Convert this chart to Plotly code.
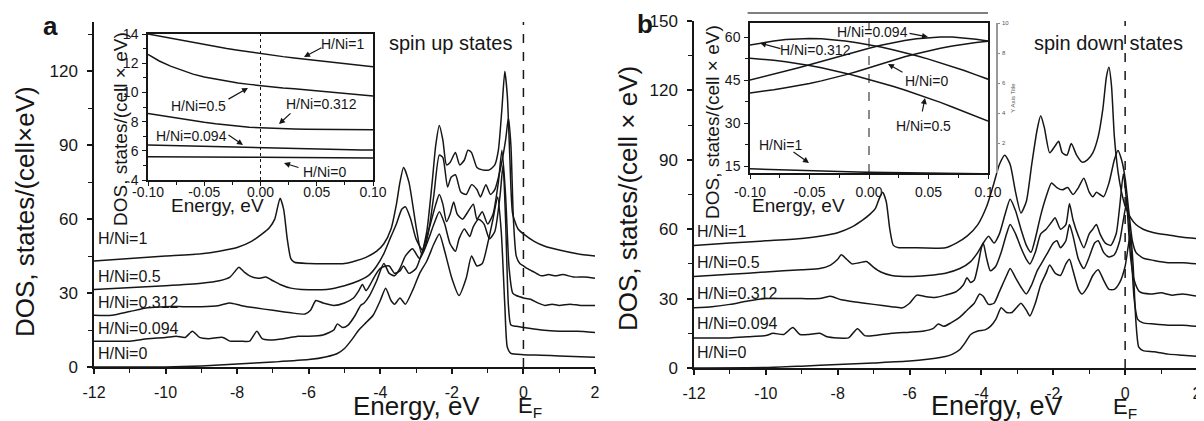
import plotly.graph_objects as go

# page body has an 8px default margin: figure is 8px smaller, positions shifted by 8px
OFF = 8
W, H = 1204 - OFF, 421 - OFF
def PX(x): return (x - OFF) / W
def PY(y): return 1 - (y - OFF) / H

FONT = "Arial, Liberation Sans, sans-serif"
INK = "#161616"

# ---------------- Panel a : spin up ----------------
a_x_0 = [-12, -10, -9, -8, -7, -6, -5.5, -5.2, -5.0, -4.8, -4.6, -4.4, -4.2, -4.0, -3.85, -3.7, -3.6, -3.45, -3.3, -3.1, -2.9, -2.7, -2.5, -2.35, -2.2, -2.0, -1.8, -1.6, -1.45, -1.3, -1.15, -1.0, -0.85, -0.72, -0.62, -0.52, -0.45, -0.35, 0, 0.5, 1, 2]
a_y_0 = [0, 0, 0.4, 1.2, 2, 3, 4.2, 5.5, 7.5, 11, 15, 18, 21, 27, 32, 27, 25.5, 28, 25.5, 31, 38, 43, 50, 54, 47, 36, 29, 36, 45, 41, 42, 50, 60, 69, 55, 25, 8, 5.5, 5, 4.8, 4.5, 4]

a_x_0094 = [-12, -11, -10.5, -10, -9.7, -9.45, -9.25, -9.05, -8.8, -8.4, -8.2, -7.9, -7.65, -7.45, -7.3, -7.1, -6.7, -6.3, -6, -5.6, -5.3, -5.2, -5.05, -4.9, -4.7, -4.55, -4.45, -4.3, -4.1, -3.9, -3.75, -3.6, -3.45, -3.3, -3.1, -2.9, -2.7, -2.5, -2.35, -2.2, -2.05, -1.9, -1.8, -1.65, -1.5, -1.4, -1.25, -1.1, -0.95, -0.8, -0.65, -0.57, -0.5, -0.42, -0.35, -0.2, 0, 0.5, 1.0, 1.5, 2.0]
a_y_0094 = [10.5, 10.5, 11.5, 12, 12.5, 12, 14.5, 12, 11.5, 12, 10.5, 10.5, 10.5, 14.5, 11.5, 11, 11.5, 12.5, 12.5, 13, 15, 17.5, 16, 17, 21, 25, 26, 29, 35, 42, 38, 37, 40, 45, 48, 44, 50, 58, 63, 58, 50, 47, 52, 56, 53, 57, 60, 58, 52, 55, 70, 82, 60, 25, 17, 16.5, 16, 15, 14.5, 14.5, 14]

a_x_0312 = [-12, -11.5, -11, -10.5, -10, -9.5, -9, -8.5, -8.2, -7.9, -7.5, -7, -6.5, -6.1, -5.95, -5.8, -5.6, -5.3, -5.0, -4.75, -4.6, -4.5, -4.4, -4.3, -4.15, -4.0, -3.85, -3.75, -3.6, -3.45, -3.35, -3.2, -3.0, -2.8, -2.6, -2.45, -2.35, -2.25, -2.15, -2.05, -1.95, -1.85, -1.7, -1.55, -1.4, -1.3, -1.15, -1.0, -0.85, -0.7, -0.6, -0.5, -0.4, -0.3, -0.2, -0.1, 0, 0.2, 0.4, 0.6, 0.8, 1.0, 1.3, 1.6, 2.0]
a_y_0312 = [21, 21, 22.5, 24, 24.5, 24.5, 24.5, 25, 26, 25, 24, 23, 22, 21.5, 23, 27, 26, 25, 26, 28, 31, 33.5, 31, 33, 37, 40, 41, 41, 38, 39, 41, 38, 40, 48, 58, 66, 70, 66, 59, 62, 67, 62, 60, 63, 66, 60, 63, 58, 62, 75, 88, 70, 40, 30, 29, 28.5, 28, 27.5, 26, 25, 25.5, 25, 25.5, 25, 25]

a_x_05 = [-12, -10, -9, -8.5, -8.2, -8.05, -7.95, -7.8, -7.65, -7.4, -7.2, -7.0, -6.8, -6.5, -6.2, -5.5, -5.0, -4.6, -4.3, -4.1, -3.9, -3.7, -3.55, -3.4, -3.3, -3.15, -3.0, -2.8, -2.65, -2.5, -2.35, -2.25, -2.12, -2.02, -1.9, -1.75, -1.6, -1.45, -1.3, -1.2, -1.05, -0.92, -0.8, -0.65, -0.5, -0.42, -0.35, -0.28, -0.2, -0.1, 0, 0.1, 0.3, 0.5, 0.7, 0.9, 1.1, 1.4, 1.7, 2.0]
a_y_05 = [31.5, 33, 34, 35, 36.5, 39, 40.5, 38.5, 37, 36, 36.5, 35, 33.5, 32, 31.5, 31.5, 33, 35, 37.5, 41, 46, 53, 58, 64, 65, 60, 52, 47, 55, 70, 86, 85, 73, 77, 78, 71, 70, 74, 72, 69, 74, 70, 72, 80, 92, 101, 90, 60, 45, 42, 41, 40, 38.5, 37, 37.5, 37, 37.5, 36.5, 36.5, 36]

a_x_1 = [-12, -11, -10, -9, -8.5, -8, -7.6, -7.3, -7.1, -6.95, -6.8, -6.7, -6.6, -6.5, -6.4, -6.0, -5.0, -4.7, -4.4, -4.1, -3.9, -3.7, -3.55, -3.45, -3.35, -3.2, -3.0, -2.85, -2.7, -2.55, -2.45, -2.35, -2.25, -2.15, -2.05, -1.9, -1.78, -1.65, -1.55, -1.45, -1.3, -1.15, -0.95, -0.8, -0.7, -0.6, -0.52, -0.45, -0.38, -0.3, -0.15, 0, 0.3, 0.6, 1.0, 1.5, 2.0]
a_y_1 = [43, 44, 45, 46, 47, 48.5, 51, 54, 56.5, 60, 68.5, 64, 52, 44, 42.5, 42, 42, 43, 44.5, 47, 50, 56, 66, 75, 81, 75, 57, 46, 55, 75, 90, 98, 92, 82, 83, 87, 82, 84, 88, 87, 81, 80, 80, 82, 88, 105, 120, 110, 85, 62, 56, 54, 51, 49, 47.5, 46, 45]

# ---------------- Panel b : spin down ----------------
b_x_0 = [-12, -10, -9, -8, -7, -6, -5.5, -5.0, -4.8, -4.6, -4.45, -4.3, -4.1, -3.9, -3.75, -3.6, -3.45, -3.3, -3.15, -3.0, -2.9, -2.75, -2.65, -2.5, -2.35, -2.2, -2.1, -1.95, -1.8, -1.65, -1.55, -1.45, -1.3, -1.2, -1.05, -0.9, -0.75, -0.6, -0.45, -0.3, -0.15, 0, 0.08, 0.15, 0.22, 0.3, 0.38, 0.5, 0.8, 1.2, 1.6, 2.0]
b_y_0 = [0, 0.2, 0.8, 1.5, 2.2, 3, 3.8, 5, 6, 8, 11, 14.5, 16, 16.5, 18, 21, 26, 24, 24, 26.5, 28, 25, 22.5, 28, 36, 41, 44.5, 41, 40, 45, 47, 42, 34, 32, 35, 40, 42.5, 38, 34, 34, 37, 44, 52, 58, 45, 20, 9, 7.5, 7, 6, 5.5, 5]

b_x_0094 = [-12, -11, -10.5, -10, -9.8, -9.5, -9.25, -9.05, -8.8, -8.5, -8.3, -8.0, -7.7, -7.45, -7.25, -7.0, -6.5, -6.0, -5.6, -5.35, -5.2, -5.05, -4.85, -4.6, -4.4, -4.2, -4.05, -3.95, -3.8, -3.65, -3.5, -3.3, -3.2, -3.05, -2.9, -2.75, -2.6, -2.45, -2.3, -2.15, -2.0, -1.9, -1.8, -1.65, -1.55, -1.45, -1.3, -1.15, -1.0, -0.85, -0.75, -0.6, -0.45, -0.3, -0.15, -0.05, 0.05, 0.15, 0.25, 0.35, 0.5, 0.8, 1.2, 1.6, 2.0]
b_y_0094 = [13, 13, 13.5, 14, 15, 14.5, 17.5, 14.5, 14.5, 15, 13.5, 13, 13, 17, 14, 14, 15, 15.5, 16, 17, 19, 18, 19.5, 22, 25, 28, 32, 31, 27.5, 28, 33, 40, 43, 39, 35, 32, 36, 42, 46, 50, 54, 55, 52, 55, 62, 57, 47, 43, 48, 54, 55, 50, 48, 49, 55, 64, 72, 55, 30, 21, 19.5, 19, 18.5, 18.5, 18]

b_x_0312 = [-12, -11.5, -11, -10.5, -10, -9.5, -9, -8.5, -8.2, -7.9, -7.5, -7, -6.5, -6.2, -6.0, -5.8, -5.6, -5.3, -5.0, -4.7, -4.5, -4.4, -4.3, -4.2, -4.1, -4.0, -3.95, -3.85, -3.75, -3.6, -3.45, -3.3, -3.2, -3.05, -2.9, -2.75, -2.65, -2.5, -2.35, -2.2, -2.05, -1.95, -1.8, -1.65, -1.55, -1.45, -1.3, -1.15, -1.0, -0.9, -0.8, -0.7, -0.55, -0.4, -0.25, -0.15, -0.05, 0.05, 0.15, 0.25, 0.4, 0.7, 1.0, 1.3, 1.6, 2.0]
b_y_0312 = [26, 26.5, 27.5, 29, 30, 30, 30, 30, 31, 29.5, 28.5, 27.5, 26.5, 26, 28, 31.5, 31, 30.5, 31.5, 33, 36, 39, 37, 38, 44, 52, 54, 47, 42, 44, 50, 58, 62, 58, 52, 47, 45, 50, 58, 60, 63, 65, 60, 62, 71, 64, 57, 52, 58, 60, 62, 58, 54, 53, 58, 70, 84, 70, 48, 38, 33, 32, 32.5, 31.5, 32, 31]

b_x_05 = [-12, -11, -10, -9, -8.5, -8.2, -8.0, -7.9, -7.75, -7.6, -7.4, -7.2, -7.0, -6.8, -6.5, -6.0, -5.5, -5.0, -4.6, -4.3, -4.1, -3.95, -3.8, -3.65, -3.5, -3.35, -3.2, -3.05, -2.9, -2.75, -2.62, -2.5, -2.35, -2.2, -2.05, -1.9, -1.75, -1.6, -1.45, -1.3, -1.15, -1.0, -0.9, -0.8, -0.7, -0.6, -0.45, -0.3, -0.2, -0.1, 0, 0.1, 0.2, 0.3, 0.5, 0.8, 1.2, 1.6, 2.0]
b_y_05 = [39.5, 40.5, 41.5, 42.5, 43, 44.5, 47, 49, 47, 45, 45.5, 46, 43.5, 41.5, 40, 39.5, 40, 41, 43, 46, 50, 54, 57, 54, 58, 66, 73, 68, 60, 53, 50, 56, 66, 74, 80, 78, 77, 78, 75, 78, 82, 76, 74, 76, 75, 74, 80, 90, 94, 90, 82, 68, 55, 50, 47.5, 46.5, 45.5, 45.5, 45]

b_x_1 = [-12, -11, -10, -9, -8.5, -8, -7.6, -7.3, -7.1, -6.95, -6.85, -6.75, -6.65, -6.55, -6.45, -6.3, -6.0, -5.0, -4.7, -4.4, -4.1, -3.85, -3.65, -3.5, -3.35, -3.2, -3.05, -2.9, -2.75, -2.6, -2.45, -2.35, -2.25, -2.1, -1.95, -1.85, -1.75, -1.62, -1.5, -1.35, -1.2, -1.05, -0.9, -0.75, -0.62, -0.52, -0.45, -0.38, -0.3, -0.2, -0.1, 0, 0.15, 0.3, 0.5, 0.8, 1.2, 1.6, 2.0]
b_y_1 = [53, 54, 55, 56, 57, 58.5, 61, 64, 66.5, 69, 73, 76, 72, 60, 53, 52, 52, 52, 54, 57, 62, 70, 80, 88, 92, 88, 76, 67, 72, 88, 103, 109, 104, 93, 96, 98, 93, 92, 97, 92, 89, 90, 93, 100, 112, 126, 130, 122, 100, 85, 76, 70, 65, 62, 60, 58.5, 57.5, 56.5, 56]

# ---------------- Insets (near E_F) ----------------
ins_x = [-0.1, -0.09, -0.08, -0.07, -0.06, -0.05, -0.04, -0.03, -0.02, -0.01, 0.0, 0.01, 0.02, 0.03, 0.04, 0.05, 0.06, 0.07, 0.08, 0.09, 0.1]
ia_y_1 = [14.0, 13.85, 13.7, 13.55, 13.4, 13.25, 13.12, 13.0, 12.88, 12.76, 12.65, 12.55, 12.45, 12.36, 12.27, 12.18, 12.1, 12.0, 11.92, 11.83, 11.75]
ia_y_05 = [12.6, 12.15, 11.8, 11.5, 11.25, 11.05, 10.9, 10.78, 10.65, 10.55, 10.45, 10.38, 10.3, 10.25, 10.18, 10.12, 10.05, 9.98, 9.9, 9.82, 9.75]
ia_y_0312 = [8.55, 8.42, 8.3, 8.18, 8.06, 7.95, 7.85, 7.76, 7.68, 7.62, 7.58, 7.54, 7.52, 7.5, 7.48, 7.47, 7.46, 7.46, 7.45, 7.45, 7.45]
ia_y_0094 = [6.4, 6.38, 6.36, 6.34, 6.32, 6.29, 6.27, 6.25, 6.23, 6.21, 6.19, 6.17, 6.16, 6.14, 6.13, 6.12, 6.1, 6.09, 6.08, 6.06, 6.05]
ia_y_0 = [5.6, 5.59, 5.59, 5.58, 5.58, 5.57, 5.57, 5.56, 5.56, 5.55, 5.55, 5.55, 5.54, 5.54, 5.53, 5.53, 5.53, 5.52, 5.52, 5.52, 5.5]

ib_y_1 = [14.0, 13.85, 13.7, 13.55, 13.42, 13.3, 13.18, 13.07, 12.97, 12.88, 12.8, 12.72, 12.65, 12.58, 12.52, 12.47, 12.42, 12.38, 12.34, 12.3, 12.27]
ib_y_05 = [52.6, 52.3, 51.9, 51.4, 50.8, 50.1, 49.3, 48.4, 47.4, 46.3, 45.2, 44.0, 42.8, 41.5, 40.1, 38.7, 37.2, 35.6, 34.0, 32.4, 30.7]
ib_y_0312 = [57.2, 58.0, 58.6, 59.1, 59.4, 59.5, 59.4, 59.1, 58.6, 58.0, 57.3, 56.5, 55.6, 54.6, 53.5, 52.3, 51.0, 49.7, 48.3, 46.8, 45.3]
ib_y_0094 = [45.0, 46.0, 47.0, 48.1, 49.2, 50.3, 51.5, 52.7, 53.9, 55.0, 56.1, 57.1, 58.0, 58.8, 59.4, 59.8, 60.0, 60.0, 59.7, 59.2, 58.6]
ib_y_0 = [40.5, 41.0, 41.6, 42.3, 43.0, 43.8, 44.7, 45.7, 46.8, 48.0, 49.3, 50.6, 51.9, 53.1, 54.2, 55.2, 56.1, 56.9, 57.6, 58.1, 58.5]

labels = ["H/Ni=1", "H/Ni=0.5", "H/Ni=0.312", "H/Ni=0.094", "H/Ni=0"]

main_xticks = [-12, -10, -8, -6, -4, -2, 0, 2]
main_xtext = ["-12", "-10", "-8", "-6", "-4", "-2", "0", "2"]
a_yticks = [0, 30, 60, 90, 120]
b_yticks = [0, 30, 60, 90, 120, 150]
ins_xticks = [-0.1, -0.05, 0.0, 0.05, 0.1]
ins_xtext = ["-0.10", "-0.05", "0.00", "0.05", "0.10"]
ia_yticks = [4, 6, 8, 10, 12, 14]
ib_yticks = [15, 30, 45, 60]
extra_yticks = [2, 4, 6, 8, 10]

fig = go.Figure()
line = dict(color=INK, width=1.5, shape="spline", smoothing=0.6)

for xs, ys in [(a_x_1, a_y_1), (a_x_05, a_y_05), (a_x_0312, a_y_0312), (a_x_0094, a_y_0094), (a_x_0, a_y_0)]:
    fig.add_trace(go.Scatter(x=xs, y=ys, mode="lines", line=line, xaxis="x", yaxis="y", showlegend=False, hoverinfo="skip"))
for xs, ys in [(b_x_1, b_y_1), (b_x_05, b_y_05), (b_x_0312, b_y_0312), (b_x_0094, b_y_0094), (b_x_0, b_y_0)]:
    fig.add_trace(go.Scatter(x=xs, y=ys, mode="lines", line=line, xaxis="x2", yaxis="y2", showlegend=False, hoverinfo="skip"))
iline = dict(color=INK, width=1.5)
for ys in [ia_y_1, ia_y_05, ia_y_0312, ia_y_0094, ia_y_0]:
    fig.add_trace(go.Scatter(x=ins_x, y=ys, mode="lines", line=iline, xaxis="x3", yaxis="y3", showlegend=False, hoverinfo="skip"))
for ys in [ib_y_1, ib_y_05, ib_y_0312, ib_y_0094, ib_y_0]:
    fig.add_trace(go.Scatter(x=ins_x, y=ys, mode="lines", line=iline, xaxis="x4", yaxis="y4", showlegend=False, hoverinfo="skip"))
fig.add_trace(go.Scatter(x=[None], y=[None], xaxis="x4", yaxis="y5", showlegend=False))

def main_x(dom):
    return dict(domain=dom, range=[-12, 2], tickvals=main_xticks, ticktext=main_xtext, automargin=False,
                ticks="outside", ticklen=5, tickwidth=1.5, tickcolor=INK, ticklabeloverflow="allow",
                minor=dict(dtick=1, tick0=0, ticks="outside", ticklen=4, tickwidth=1.2, tickcolor=INK),
                showline=True, linewidth=1.5, linecolor=INK, showgrid=False, zeroline=False,
                tickfont=dict(size=16, color=INK, family=FONT), ticklabelstandoff=5)

def main_y(dom, rng, tv, anchor):
    return dict(domain=dom, range=rng, tickvals=tv, anchor=anchor, automargin=False,
                ticks="outside", ticklen=5, tickwidth=1.5, tickcolor=INK, ticklabeloverflow="allow",
                minor=dict(dtick=15, tick0=0, ticks="outside", ticklen=4, tickwidth=1.2, tickcolor=INK),
                showline=True, linewidth=1.5, linecolor=INK, showgrid=False, zeroline=False,
                tickfont=dict(size=17, color=INK, family=FONT), ticklabelstandoff=6)

def ins_xax(dom, anchor, standoff):
    return dict(domain=dom, range=[-0.1, 0.1], tickvals=ins_xticks, ticktext=ins_xtext, anchor=anchor, automargin=False,
                ticks="outside", ticklen=4, tickwidth=1.2, tickcolor=INK, ticklabeloverflow="allow",
                minor=dict(dtick=0.025, tick0=0, ticks="outside", ticklen=3, tickwidth=1, tickcolor=INK),
                showline=True, mirror=True, linewidth=1.5, linecolor=INK, showgrid=False, zeroline=False,
                tickfont=dict(size=14, color=INK, family=FONT), ticklabelstandoff=standoff)

def ins_yax(dom, rng, tv, anchor, minor_dt):
    return dict(domain=dom, range=rng, tickvals=tv, anchor=anchor, automargin=False,
                ticks="outside", ticklen=4, tickwidth=1.2, tickcolor=INK, ticklabeloverflow="allow",
                minor=dict(dtick=minor_dt, tick0=0, ticks="outside", ticklen=3, tickwidth=1, tickcolor=INK),
                showline=True, mirror=True, linewidth=1.5, linecolor=INK, showgrid=False, zeroline=False,
                tickfont=dict(size=14, color=INK, family=FONT), ticklabelstandoff=1)

fig.update_layout(
    template="none",
    width=W, height=H, margin=dict(l=0, r=0, t=0, b=0, autoexpand=False),
    paper_bgcolor="white", plot_bgcolor="rgba(0,0,0,0)",
    font=dict(family=FONT, color=INK),
    xaxis=dict(main_x([PX(94), PX(595)]), anchor="y"),
    yaxis=main_y([PY(367), PY(22)], [0, 140], a_yticks, "x"),
    xaxis2=dict(main_x([PX(694), PX(1197)]), anchor="y2"),
    yaxis2=main_y([PY(368), PY(21)], [0, 150], b_yticks, "x2"),
    xaxis3=ins_xax([PX(148), PX(373)], "y3", -6),
    yaxis3=ins_yax([PY(180), PY(34)], [4, 14], ia_yticks, "x3", 1),
    xaxis4=ins_xax([PX(750), PX(988)], "y4", 1),
    yaxis4=ins_yax([PY(173), PY(23)], [12.56, 64.9], ib_yticks, "x4", 7.5),
    yaxis5=dict(overlaying="y4", side="right", anchor="free", position=PX(997), range=[0, 10], automargin=False,
                tickvals=extra_yticks, ticks="outside", ticklen=2, tickwidth=1, tickcolor="#888",
                showline=True, linewidth=1.5, linecolor="#999", showgrid=False, zeroline=False,
                tickfont=dict(size=6, color="#555", family=FONT), ticklabelstandoff=1,
                title=dict(text="Y Axis Title", font=dict(size=6, color="#555", family=FONT), standoff=2)),
)

shapes = [
    dict(type="line", xref="x", yref="y domain", x0=0, x1=0, y0=0, y1=1, line=dict(color=INK, width=1.5, dash="dash")),
    dict(type="line", xref="x2", yref="y2 domain", x0=0, x1=0, y0=0, y1=1, line=dict(color=INK, width=1.5, dash="dash")),
    dict(type="line", xref="x3", yref="y3 domain", x0=0, x1=0, y0=0, y1=1, line=dict(color=INK, width=1, dash="dot")),
    dict(type="line", xref="x4", yref="y4 domain", x0=0, x1=0, y0=0, y1=1, line=dict(color=INK, width=1, dash="dash")),
    dict(type="line", xref="x4 domain", yref="paper", x0=-0.01, x1=1, y0=PY(13), y1=PY(13), line=dict(color="#555", width=1.5)),
]
fig.update_layout(shapes=shapes)

ann = []
def txt(x, y, s, size, xanchor="center", bold=False, angle=0):
    ann.append(dict(x=PX(x), y=PY(y), xref="paper", yref="paper", text=("<b>%s</b>" % s) if bold else s,
                    showarrow=False, xanchor=xanchor, yanchor="middle", textangle=angle,
                    font=dict(size=size, color=INK, family=FONT)))
def arrow(hx, hy, tx, ty):
    ann.append(dict(x=PX(hx), y=PY(hy), xref="paper", yref="paper", ax=tx - hx, ay=ty - hy,
                    axref="pixel", ayref="pixel", text="", showarrow=True, arrowhead=2, arrowsize=1,
                    arrowwidth=1.2, arrowcolor=INK, standoff=0, startstandoff=0))

# panel letters and titles
txt(51, 26, "a", 26, bold=True)
txt(645, 24, "b", 26, bold=True)
txt(25, 212, "DOS, states/(cell×eV)", 26, angle=-90)
txt(628, 199, "DOS, states/(cell × eV)", 26, angle=-90)
txt(416, 406, "Energy, eV", 26)
txt(997, 406, "Energy, eV", 27)
txt(516, 407, "E<sub>F</sub>", 22, xanchor="left")
txt(1111, 408, "E<sub>F</sub>", 22, xanchor="left")
txt(387, 43, "spin up states", 20, xanchor="left")
txt(1032, 43, "spin down states", 20, xanchor="left")

# curve labels
for lab, ya, yb in zip(labels, [238, 276, 302, 328, 353], [231, 262, 293, 323, 352]):
    txt(96, ya, lab, 16, xanchor="left")
    txt(695, yb, lab, 16, xanchor="left")

# inset titles
txt(217, 205, "Energy, eV", 19)
txt(121, 129, "DOS, states/(cell × eV)", 19, angle=-90)
txt(799, 205, "Energy, eV", 19)
txt(712, 122, "DOS, states/(cell × eV)", 19, angle=-90)

# inset a labels and arrows
txt(342, 44, "H/Ni=1", 14); arrow(304, 57, 323, 47)
txt(198, 106, "H/Ni=0.5", 14); arrow(248, 88, 227, 100)
txt(321, 104, "H/Ni=0.312", 14); arrow(279, 124, 292, 112)
txt(191, 136, "H/Ni=0.094", 14); arrow(243, 145, 227, 134)
txt(324, 172, "H/Ni=0", 14); arrow(284, 163, 300, 168)

# inset b labels and arrows
txt(872, 32, "H/Ni=0.094", 14); arrow(928, 37, 908, 33)
txt(815, 50, "H/Ni=0.312", 14); arrow(760, 43, 782, 49)
txt(926, 81, "H/Ni=0", 14); arrow(888, 64, 904, 73)
txt(923, 126, "H/Ni=0.5", 14); arrow(925, 98, 922, 113)
txt(780, 145, "H/Ni=1", 14); arrow(809, 163, 792, 151)

fig.update_layout(annotations=ann)
fig.write_html("out.html")
